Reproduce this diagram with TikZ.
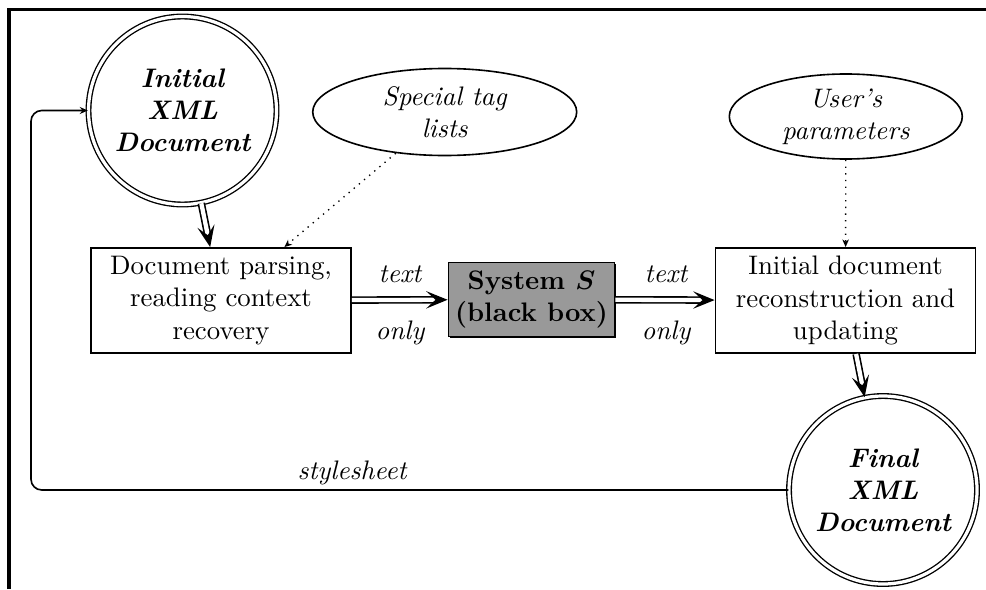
\documentclass[tikz,border=0pt]{standalone}
\usetikzlibrary{arrows.meta,shapes.geometric,shadows}
\def\px{0.3731pt}
\begin{document}
\begin{tikzpicture}[x=0.3731pt,y=-0.3731pt]
\useasboundingbox (0,0) rectangle (986,589);
\tikzset{
  procbox/.style={draw, line width=0.7pt, minimum width=260*\px, minimum height=105*\px, align=center, inner sep=0pt},
  docnode/.style={circle, draw, double, double distance=1.2pt, line width=0.5pt, minimum size=188*\px, align=center, inner sep=0pt, font=\bfseries\itshape},
  infonode/.style={ellipse, draw, line width=0.6pt, align=center, inner sep=0pt, font=\itshape},
  blackbox/.style={draw, line width=0.7pt, fill=black!40, minimum width=166*\px, minimum height=74*\px, align=center, inner sep=0pt, font=\bfseries\boldmath,
    drop shadow={shadow xshift=0.7pt, shadow yshift=-0.7pt, fill=black, opacity=1}},
  dblarrow/.style={double, double distance=1.6pt, line width=0.6pt, -{Stealth[length=8pt,width=6.5pt,inset=3.5pt]}},
  dotarrow/.style={dotted, line width=0.5pt, -{Stealth[length=2.8pt,width=2.4pt,inset=0.8pt]}},
  fbarrow/.style={line width=0.6pt, rounded corners=4pt, -{Stealth[length=3pt,width=2.6pt,inset=1pt]}},
  lbl/.style={inner sep=0pt, font=\itshape}
}
% frame
\draw[line width=1.4pt] (9.2,589) -- (9.2,9.5) -- (986,9.5);

\node[docnode] (init) at (182.5,110.5) {Initial\\XML\\Document};
\node[docnode] (final) at (883,490) {Final\\XML\\Document};

\node[infonode, minimum width=264*\px, minimum height=87*\px] (tags) at (444.7,112) {Special tag\\lists};
\node[infonode, minimum width=233*\px, minimum height=85*\px] (params) at (845.8,116.5) {User’s\\parameters};

\node[procbox] (parse) at (221,300.5) {Document parsing,\\reading context\\recovery};
\node[procbox] (recon) at (845.5,300.5) {Initial document\\reconstruction and\\updating};
\node[blackbox] (sys) at (531.5,299.5) {System $S$\\(black box)};

\draw[dblarrow] (init) -- (parse);
\draw[dblarrow] (recon) -- (final);
\draw[dblarrow] (parse) -- (sys);
\draw[dblarrow] (sys) -- (recon);
\draw[dotarrow] (tags) -- (parse);
\draw[dotarrow] (params) -- (recon);

\node[lbl] (t1) at (400,274) {text};
\node[lbl] (o1) at (400,333) {only};
\node[lbl] (t2) at (666,274) {text};
\node[lbl] (o2) at (666,333) {only};

\coordinate (fbc) at (31,300);
\draw[fbarrow] (final.west) -| (fbc) |- (init.west);
\node[lbl] (ss) at (352,473) {stylesheet};
\end{tikzpicture}
\end{document}
